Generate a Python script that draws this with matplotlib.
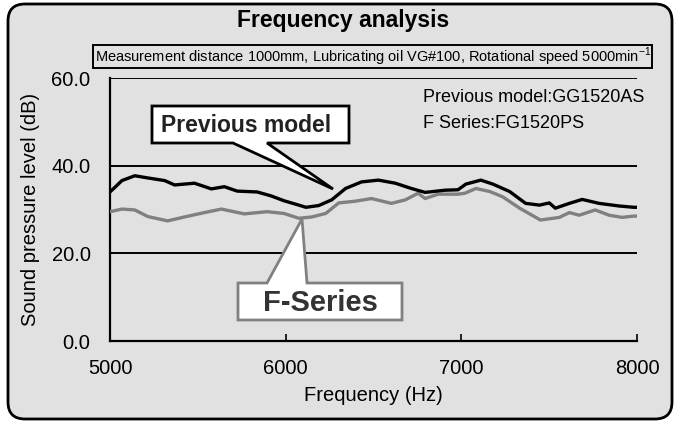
import matplotlib
matplotlib.use("Agg")
import matplotlib.pyplot as plt
from matplotlib.patches import FancyBboxPatch, Polygon, Rectangle

# ---- data ----
freq_prev = [5000, 5068, 5141, 5215, 5311, 5368, 5424, 5481, 5577, 5651, 5724, 5838, 5917,
             5990, 6075, 6115, 6188, 6262, 6341, 6432, 6528, 6624, 6715, 6794, 6907, 6981,
             7026, 7111, 7179, 7275, 7366, 7445, 7501, 7535, 7615, 7688, 7784, 7898, 7982, 8000]
spl_prev = [34.0, 36.6, 37.7, 37.2, 36.6, 35.6, 35.8, 36.0, 34.7, 35.2, 34.2, 34.0, 33.1,
            32.0, 31.0, 30.5, 30.9, 32.2, 34.8, 36.3, 36.7, 36.0, 34.8, 33.9, 34.4, 34.5,
            35.8, 36.7, 35.8, 34.1, 31.4, 31.0, 31.5, 30.3, 31.4, 32.3, 31.4, 30.8, 30.5, 30.5]

freq_f = [5000, 5068, 5141, 5215, 5328, 5424, 5538, 5634, 5764, 5894, 5990, 6075, 6149,
          6228, 6302, 6398, 6488, 6602, 6681, 6754, 6794, 6868, 6981, 7020, 7083, 7162,
          7235, 7332, 7450, 7558, 7615, 7671, 7762, 7841, 7915, 7982, 8000]
spl_f = [29.5, 30.1, 29.9, 28.4, 27.4, 28.3, 29.3, 30.1, 29.0, 29.5, 29.1, 28.0, 28.3,
         29.1, 31.5, 31.9, 32.5, 31.4, 32.2, 33.7, 32.5, 33.5, 33.5, 33.7, 34.8, 34.1,
         32.9, 30.3, 27.6, 28.2, 29.3, 28.7, 29.9, 28.7, 28.2, 28.5, 28.5]

x_ticks = [5000, 6000, 7000, 8000]
y_ticks = [0, 20, 40, 60]
title = "Frequency analysis"
subtitle = "Measurement distance 1000mm, Lubricating oil VG#100, Rotational speed 5000min$^{-1}$"
info_lines = ["Previous model:GG1520AS", "F Series:FG1520PS"]

W, H = 680, 423
BG = "#e1e1e1"
plt.rcParams['font.family'] = ['Liberation Sans', 'DejaVu Sans']
plt.rcParams['mathtext.fontset'] = 'custom'
plt.rcParams['mathtext.rm'] = 'Liberation Sans'

fig = plt.figure(figsize=(W / 100, H / 100), dpi=100)
fig.patch.set_facecolor("white")


def P(x, y):
    return (x / W, 1 - y / H)


# outer rounded panel
panel = FancyBboxPatch(P(8, 419), (672 - 8) / W, (419 - 4) / H,
                       boxstyle="round,pad=0,rounding_size=0.025",
                       transform=fig.transFigure, facecolor=BG, edgecolor="black",
                       linewidth=2, zorder=-5, mutation_aspect=W / H)
fig.patches.append(panel)

# axes
ax = fig.add_axes([110 / W, (H - 341) / H, (637 - 110) / W, (341 - 78) / H])
ax.set_zorder(1)
ax.set_facecolor(BG)
ax.set_xlim(5000, 8000)
ax.set_ylim(0, 60)
for s in ["top", "right"]:
    ax.spines[s].set_visible(False)
for s in ["left", "bottom"]:
    ax.spines[s].set_linewidth(1.6)
for yv in y_ticks[1:]:
    ax.axhline(yv, color="black", lw=1.4, zorder=1)
ax.set_xticks(x_ticks)
ax.set_yticks(y_ticks)
ax.set_yticklabels([f"{v:.1f}" for v in y_ticks])
ax.tick_params(axis="x", direction="in", length=5, width=1.2, labelsize=14.5, pad=13)
ax.tick_params(axis="y", length=0, labelsize=14.5, pad=14)
ax.set_xlabel("Frequency (Hz)", fontsize=14.5, labelpad=6)
ax.set_ylabel("Sound pressure level (dB)", fontsize=14.5, labelpad=8)

ax.plot(freq_f, spl_f, color="#808080", lw=2.4, zorder=3)
ax.plot(freq_prev, spl_prev, color="black", lw=2.4, zorder=4)

# title and subtitle
fig.text(*P(343, 20), title, ha="center", va="center", fontsize=16.5, fontweight="bold")
fig.patches.append(Rectangle(P(93, 68), (652 - 93) / W, (68 - 45) / H, transform=fig.transFigure,
                             facecolor=BG, edgecolor="black", lw=1.4, zorder=2))
fig.text(*P(373, 57), subtitle, ha="center", va="center", fontsize=10.5, zorder=3)

# info text
fig.text(*P(423, 98), info_lines[0], ha="left", va="center", fontsize=13, zorder=3)
fig.text(*P(423, 123), info_lines[1], ha="left", va="center", fontsize=13, zorder=3)

# callout: Previous model
prev_poly = [P(152, 106), P(349, 106), P(349, 143), P(267, 143), P(333, 189), P(233, 143), P(152, 143)]
fig.patches.append(Polygon(prev_poly, closed=True, transform=fig.transFigure, facecolor="white",
                           edgecolor="black", lw=2, zorder=5))
fig.text(*P(246, 125), "Previous model", ha="center", va="center", fontsize=16.5, fontweight="bold",
         color="#222222", zorder=6)

# callout: F-Series
f_poly = [P(238, 283), P(267, 283), P(302, 219), P(307, 283), P(402, 283), P(402, 320), P(238, 320)]
fig.patches.append(Polygon(f_poly, closed=True, transform=fig.transFigure, facecolor="white",
                           edgecolor="#808080", lw=2, zorder=5))
fig.text(*P(320, 303), "F-Series", ha="center", va="center", fontsize=21, fontweight="bold",
         color="#333333", zorder=6)

fig.savefig("out.png", dpi=100, facecolor="white")
